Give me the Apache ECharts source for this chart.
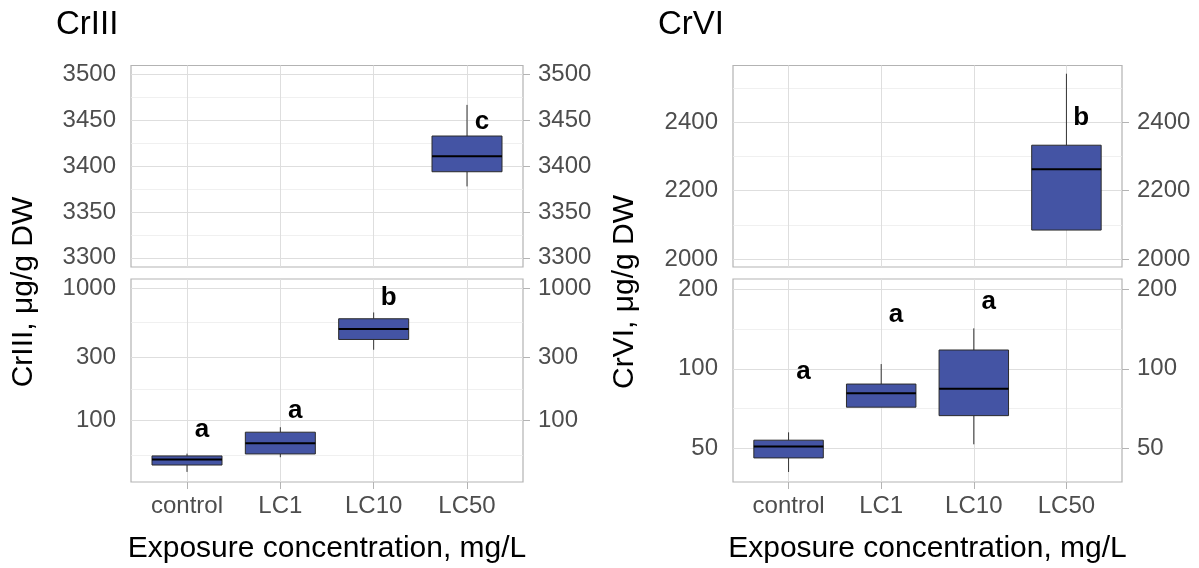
<!DOCTYPE html>
<html>
<head>
<meta charset="utf-8">
<script src="https://cdn.jsdelivr.net/npm/echarts@6/dist/echarts.min.js"></script>
<style>
html,body{margin:0;padding:0;background:#fff;}
#chart{width:1199px;height:568px;}
</style>
</head>
<body>
<div id="chart"></div>
<script>
// ---------------- data ----------------
const categories = ['control', 'LC1', 'LC10', 'LC50'];

// CrIII five-number summaries per category (µg/g DW)
const crIIIMin    = [41.0, 52.9, 342, 3378];
const crIIIQ1     = [46.2, 56.0, 409, 3394];
const crIIIMedian = [50.8, 67.5, 490, 3411];
const crIIIQ3     = [54.1, 81.7, 586, 3433];
const crIIIMax    = [56.3, 89.1, 654, 3467];
const crIIILetters = ['a', 'a', 'b', 'c'];
const crIIILetterY = [84.6, 117.8, 840, 3449];

// CrVI five-number summaries per category (µg/g DW)
const crVIMin    = [40.6, 71.5, 51.7, 2085];
const crVIQ1     = [45.9, 71.5, 66.4, 2085];
const crVIMedian = [50.7, 80.8, 83.9, 2263];
const crVIQ3     = [53.6, 87.5, 117.8, 2333];
const crVIMax    = [57.4, 104.2, 142.3, 2542];
const crVILetters = ['a', 'a', 'a', 'b'];
const crVILetterY = [97, 159.5, 179.3, 2414];

// which categories sit in which part of the broken axis
const lowerIdx = [0, 1, 2];
const upperIdx = [3];

// axis limits and ticks
const crIIIUpperRange = [3290, 3510];
const crIIIUpperTicks = [3300, 3350, 3400, 3450, 3500];
const crIIIUpperMinor = [3325, 3375, 3425, 3475];
const crIIILowerRange = [34.4, 1169];
const crIIILowerTicks = [100, 300, 1000];
const crIIILowerMinor = [54.77, 173.2, 547.7];

const crVIUpperRange = [1977, 2566];
const crVIUpperTicks = [2000, 2200, 2400];
const crVIUpperMinor = [2100, 2300, 2500];
const crVILowerRange = [37.2, 219];
const crVILowerTicks = [50, 100, 200];
const crVILowerMinor = [70.71, 141.4];

const xTicks = [0, 1, 2, 3];
const xRange = [-0.6, 3.6];

// ---------------- styling ----------------
const FONT = "'Liberation Sans', Arial, Helvetica, sans-serif";
const BOX_FILL = '#4454a4';
const BOX_W = 0.75;
const LETTER_DX = 0.16;

const panels = [
  {left: 131, top: 65.5, width: 392, height: 201.5},  // CrIII upper
  {left: 131, top: 279,  width: 392, height: 203},    // CrIII lower
  {left: 733, top: 65.5, width: 389, height: 201.5},  // CrVI upper
  {left: 733, top: 279,  width: 389, height: 203}     // CrVI lower
];

function buildBoxData(idx, mn, q1, md, q3, mx) {
  return idx.map(i => [i, mn[i], q1[i], md[i], q3[i], mx[i]]);
}
function buildLetterData(idx, ys) {
  return idx.map(i => [i + LETTER_DX, ys[i], i]);
}

const panelDefs = [
  {type: 'value', range: crIIIUpperRange, ticks: crIIIUpperTicks, minor: crIIIUpperMinor,
   box: buildBoxData(upperIdx, crIIIMin, crIIIQ1, crIIIMedian, crIIIQ3, crIIIMax),
   letters: buildLetterData(upperIdx, crIIILetterY), letterText: crIIILetters, showX: false},
  {type: 'log', range: crIIILowerRange, ticks: crIIILowerTicks, minor: crIIILowerMinor,
   box: buildBoxData(lowerIdx, crIIIMin, crIIIQ1, crIIIMedian, crIIIQ3, crIIIMax),
   letters: buildLetterData(lowerIdx, crIIILetterY), letterText: crIIILetters, showX: true},
  {type: 'value', range: crVIUpperRange, ticks: crVIUpperTicks, minor: crVIUpperMinor,
   box: buildBoxData(upperIdx, crVIMin, crVIQ1, crVIMedian, crVIQ3, crVIMax),
   letters: buildLetterData(upperIdx, crVILetterY), letterText: crVILetters, showX: false},
  {type: 'log', range: crVILowerRange, ticks: crVILowerTicks, minor: crVILowerMinor,
   box: buildBoxData(lowerIdx, crVIMin, crVIQ1, crVIMedian, crVIQ3, crVIMax),
   letters: buildLetterData(lowerIdx, crVILetterY), letterText: crVILetters, showX: true}
];

const grid = [], xAxis = [], yAxis = [], series = [];

function yAxisDef(p, gi, position) {
  const a = {
    type: p.type, gridIndex: gi, position: position,
    min: p.range[0], max: p.range[1],
    axisLine: {show: false},
    splitLine: {show: false},
    axisTick: {show: true, length: 7, customValues: p.ticks, lineStyle: {color: '#b3b3b3', width: 1}},
    axisLabel: {customValues: p.ticks, margin: 15, fontSize: 24, color: '#4d4d4d', fontFamily: FONT,
                formatter: v => String(Math.round(v))}
  };
  if (p.type === 'log') a.logBase = 10;
  return a;
}

panelDefs.forEach((p, gi) => {
  const g = panels[gi];
  grid.push({left: g.left, top: g.top, width: g.width, height: g.height,
             show: true, borderColor: '#b3b3b3', borderWidth: 1.2, backgroundColor: '#fff'});
  xAxis.push({
    type: 'value', gridIndex: gi, min: xRange[0], max: xRange[1],
    axisLine: {show: false}, splitLine: {show: false},
    axisTick: {show: p.showX, length: 7, customValues: xTicks, lineStyle: {color: '#b3b3b3', width: 1}},
    axisLabel: {show: p.showX, customValues: xTicks, margin: 12, fontSize: 24, color: '#4d4d4d', fontFamily: FONT,
                formatter: v => categories[Math.round(v)]},
    name: p.showX ? 'Exposure concentration, mg/L' : '',
    nameLocation: 'middle', nameGap: 52,
    nameTextStyle: {fontSize: 30, color: '#000', fontFamily: FONT}
  });
  const yl = yAxis.length;
  yAxis.push(yAxisDef(p, gi, 'left'));
  yAxis.push(yAxisDef(p, gi, 'right'));

  const gridLines = []
    .concat(p.minor.map(v => ({yAxis: v, lineStyle: {color: '#ececec', width: 0.8, type: 'solid'}})))
    .concat(p.ticks.map(v => ({yAxis: v})))
    .concat(xTicks.map(v => ({xAxis: v})));

  series.push({
    type: 'custom', xAxisIndex: gi, yAxisIndex: yl, z: 3,
    data: p.box,
    encode: {x: 0, y: [1, 2, 3, 4, 5]},
    renderItem: function (params, api) {
      const x = api.value(0);
      const lo = api.coord([x, api.value(1)]);
      const q1 = api.coord([x, api.value(2)]);
      const md = api.coord([x, api.value(3)]);
      const q3 = api.coord([x, api.value(4)]);
      const hi = api.coord([x, api.value(5)]);
      const hw = api.coord([x + BOX_W / 2, api.value(3)])[0] - md[0];
      return {type: 'group', children: [
        {type: 'line', shape: {x1: hi[0], y1: hi[1], x2: q3[0], y2: q3[1]}, style: {stroke: '#333', lineWidth: 1}},
        {type: 'line', shape: {x1: q1[0], y1: q1[1], x2: lo[0], y2: lo[1]}, style: {stroke: '#333', lineWidth: 1}},
        {type: 'rect', shape: {x: md[0] - hw, y: q3[1], width: 2 * hw, height: q1[1] - q3[1]},
         style: {fill: BOX_FILL, stroke: '#2b2b2b', lineWidth: 1}},
        {type: 'line', shape: {x1: md[0] - hw, y1: md[1], x2: md[0] + hw, y2: md[1]}, style: {stroke: '#000', lineWidth: 2}}
      ]};
    },
    markLine: {
      silent: true, z: 1, symbol: ['none', 'none'], animation: false,
      label: {show: false},
      lineStyle: {color: '#dedede', width: 1, type: 'solid'},
      emphasis: {disabled: true},
      data: gridLines
    }
  });

  const texts = p.letterText;
  series.push({
    type: 'custom', xAxisIndex: gi, yAxisIndex: yl, z: 4,
    data: p.letters,
    encode: {x: 0, y: 1},
    renderItem: function (params, api) {
      const pt = api.coord([api.value(0), api.value(1)]);
      return {type: 'text', x: pt[0], y: pt[1],
              style: {text: texts[api.value(2)], fontSize: 26, fontWeight: 'bold', fontFamily: FONT,
                      fill: '#000', align: 'center', verticalAlign: 'middle'}};
    }
  });
});

const option = {
  animation: false,
  backgroundColor: '#fff',
  grid: grid, xAxis: xAxis, yAxis: yAxis, series: series,
  graphic: [
    {type: 'text', x: 56, y: 24.5, style: {text: 'CrIII', fontSize: 33, fontFamily: FONT, fill: '#000', align: 'left', verticalAlign: 'middle'}},
    {type: 'text', x: 658, y: 24.5, style: {text: 'CrVI', fontSize: 33, fontFamily: FONT, fill: '#000', align: 'left', verticalAlign: 'middle'}},
    {type: 'text', x: 24, y: 292, rotation: Math.PI / 2,
     style: {text: 'CrIII, μg/g DW', fontSize: 30, fontFamily: FONT, fill: '#000', align: 'center', verticalAlign: 'middle'}},
    {type: 'text', x: 625, y: 292, rotation: Math.PI / 2,
     style: {text: 'CrVI, μg/g DW', fontSize: 30, fontFamily: FONT, fill: '#000', align: 'center', verticalAlign: 'middle'}}
  ]
};

const chart = echarts.init(document.getElementById('chart'), null, {renderer: 'canvas'});
chart.setOption(option);
</script>
</body>
</html>
